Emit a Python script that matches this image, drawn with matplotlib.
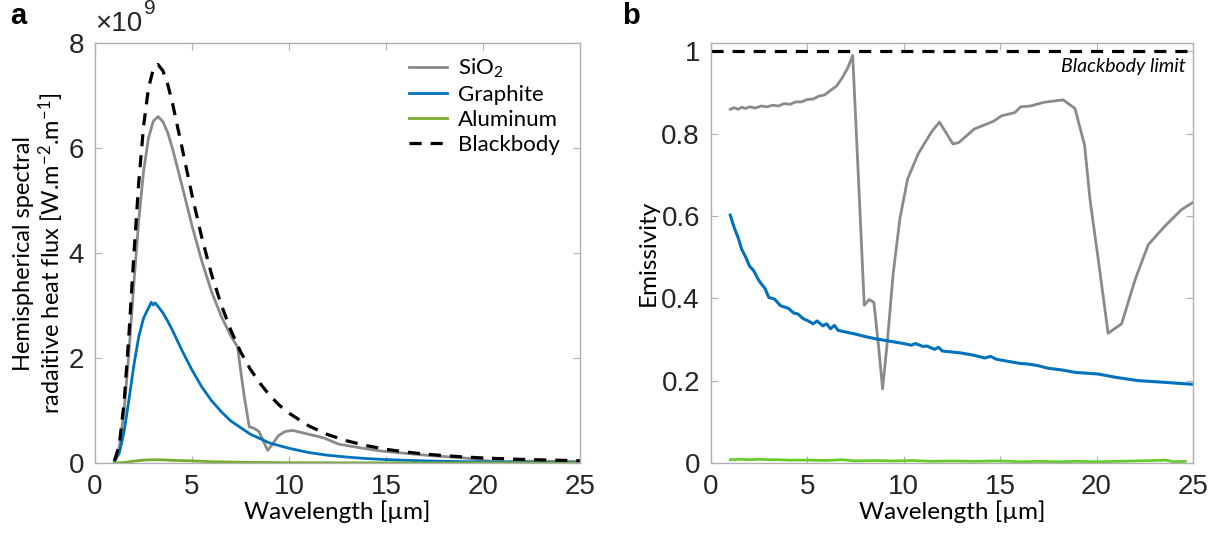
import matplotlib
matplotlib.use("Agg")
import matplotlib.pyplot as plt

# panel a: hemispherical spectral heat flux [x1e9 W/m^2/m]
wl_bb = [1.0, 1.25, 1.5, 1.75, 2.0, 2.25, 2.5, 2.75, 3.0, 3.25, 3.5, 3.75, 4.0, 4.5, 5.0,
         5.5, 6.0, 6.5, 7.0, 7.5, 8.0, 8.5, 9.0, 9.5, 10, 11, 12, 13, 14, 15, 16, 17, 18,
         19, 20, 22, 25]
flux_bb = [0.04, 0.34, 1.16, 2.46, 3.95, 5.33, 6.41, 7.13, 7.50, 7.59, 7.47, 7.21, 6.84, 5.98,
           5.10, 4.30, 3.60, 3.02, 2.53, 2.12, 1.79, 1.52, 1.29, 1.10, 0.95, 0.71, 0.54, 0.42,
           0.33, 0.26, 0.21, 0.17, 0.14, 0.115, 0.096, 0.068, 0.043]

wl_sio2_a = [1.0, 1.25, 1.5, 1.75, 2.0, 2.25, 2.5, 2.75, 3.0, 3.25, 3.5, 3.75, 4.0, 4.5, 5.0,
             5.5, 6.0, 6.5, 7.0, 7.35, 7.5, 7.7, 7.95, 8.2, 8.45, 8.7, 8.9, 9.15, 9.45, 9.8,
             10.2, 10.75, 11.45, 11.85, 12.55, 13.65, 14.7, 15.8, 16.6, 17.3, 18.3, 18.9, 19.4,
             20.0, 20.6, 21.3, 22.2, 23.0, 24.0, 25.0]
flux_sio2 = [0.037, 0.29, 1.00, 2.12, 3.41, 4.61, 5.55, 6.18, 6.51, 6.60, 6.50, 6.29, 5.98, 5.26,
             4.52, 3.85, 3.27, 2.80, 2.42, 2.21, 1.78, 1.25, 0.69, 0.66, 0.60, 0.40, 0.24, 0.36,
             0.52, 0.60, 0.62, 0.57, 0.51, 0.47, 0.36, 0.29, 0.23, 0.19, 0.165, 0.14, 0.115, 0.10,
             0.083, 0.051, 0.027, 0.026, 0.035, 0.034, 0.031, 0.027]

wl_gr_a = [1.0, 1.25, 1.5, 1.75, 2.0, 2.25, 2.5, 2.75, 2.9, 3.0, 3.1, 3.25, 3.5, 3.75, 4.0,
           4.5, 5.0, 5.5, 6.0, 6.5, 7.0, 8.0, 9.0, 10, 11, 12, 13, 14, 15, 16, 17, 18, 19, 20,
           22, 25]
flux_gr = [0.026, 0.19, 0.60, 1.21, 1.86, 2.40, 2.76, 2.95, 3.06, 3.01, 3.05, 2.98, 2.86, 2.70,
           2.52, 2.13, 1.77, 1.45, 1.19, 0.98, 0.80, 0.55, 0.38, 0.28, 0.20, 0.147, 0.112, 0.084,
           0.065, 0.051, 0.040, 0.032, 0.025, 0.021, 0.014, 0.008]

wl_al_a = [1.0, 1.5, 2.0, 2.5, 3.0, 3.5, 4.0, 5.0, 6.0, 7.0, 8.0, 10, 13, 17, 25]
flux_al = [0.0, 0.01, 0.035, 0.055, 0.062, 0.06, 0.05, 0.04, 0.025, 0.018, 0.012, 0.006,
           0.003, 0.001, 0.0005]

# panel b: emissivity
wl_sio2_b = [1.0, 1.2, 1.4, 1.6, 1.8, 2.0, 2.3, 2.6, 2.9, 3.2, 3.5, 3.8, 4.1, 4.4, 4.7, 5.0,
             5.3, 5.6, 5.9, 6.2, 6.5, 6.8, 7.1, 7.35, 7.65, 7.95, 8.2, 8.45, 8.7, 8.9, 9.15,
             9.45, 9.8, 10.2, 10.75, 11.45, 11.85, 12.55, 12.85, 13.65, 14.66, 15.06, 15.76,
             16.06, 16.57, 17.27, 18.27, 18.88, 19.38, 19.66, 20.09, 20.6, 21.3, 22.0, 22.68,
             23.54, 24.4, 25.0]
eps_sio2 = [0.859, 0.863, 0.859, 0.864, 0.861, 0.865, 0.862, 0.867, 0.865, 0.869, 0.867, 0.873,
            0.871, 0.877, 0.877, 0.883, 0.884, 0.891, 0.894, 0.905, 0.915, 0.935, 0.96, 0.99,
            0.69, 0.383, 0.397, 0.39, 0.28, 0.18, 0.296, 0.46, 0.594, 0.69, 0.751, 0.805,
            0.828, 0.775, 0.778, 0.811, 0.83, 0.843, 0.851, 0.865, 0.867, 0.876, 0.882, 0.861,
            0.772, 0.64, 0.494, 0.315, 0.338, 0.445, 0.53, 0.575, 0.615, 0.633]

wl_gr_b = [1.0, 1.2, 1.4, 1.6, 1.8, 2.0, 2.2, 2.5, 2.8, 3.0, 3.3, 3.6, 4.0, 4.3, 4.5, 4.8,
           5.0, 5.3, 5.5, 5.8, 6.0, 6.2, 6.4, 6.6, 7.0, 7.5, 8.0, 8.5, 9.0, 9.5, 10.0, 10.4,
           10.6, 11.0, 11.2, 11.6, 11.8, 12.0, 12.4, 13.0, 13.6, 14.2, 14.5, 14.8, 15.4, 16.0,
           16.5, 17.0, 17.5, 18.2, 18.9, 20.1, 21.0, 22.16, 23.5, 25.0]
eps_gr = [0.602, 0.572, 0.548, 0.518, 0.500, 0.478, 0.468, 0.442, 0.424, 0.402, 0.398, 0.382,
          0.376, 0.364, 0.362, 0.350, 0.346, 0.338, 0.345, 0.333, 0.338, 0.326, 0.334, 0.322,
          0.318, 0.313, 0.307, 0.302, 0.298, 0.294, 0.29, 0.286, 0.29, 0.283, 0.284, 0.276,
          0.281, 0.272, 0.27, 0.267, 0.262, 0.255, 0.259, 0.252, 0.247, 0.242, 0.24, 0.236,
          0.230, 0.226, 0.22, 0.216, 0.208, 0.2, 0.196, 0.191]

wl_al_b = [1.0, 1.5, 2.0, 2.5, 3.0, 3.5, 4.0, 5.0, 6.0, 6.8, 7.5, 8.5, 9.5, 10.5, 11.5, 12.5,
           13.5, 15, 16, 17, 18, 19, 20, 21, 22, 23, 23.6, 24.0, 24.6]
eps_al = [0.008, 0.009, 0.008, 0.009, 0.008, 0.008, 0.007, 0.007, 0.006, 0.008, 0.005, 0.006,
          0.005, 0.006, 0.004, 0.005, 0.004, 0.005, 0.003, 0.004, 0.003, 0.004, 0.003, 0.004,
          0.005, 0.006, 0.007, 0.003, 0.004]

grey = "#8a8a8a"
blue = "#0072BD"
green_a = "#77AC30"
green_b = "#66CC2E"
tickc = "#262626"
boxc = "#b0b0b0"

plt.rcParams["mathtext.fontset"] = "custom"
plt.rcParams["mathtext.rm"] = "Lato"
plt.rcParams["mathtext.it"] = "Lato:italic"

fig = plt.figure(figsize=(12.2, 5.35), dpi=100)
ax1 = fig.add_axes([0.0779, 0.1346, 0.3975, 0.785])
ax2 = fig.add_axes([0.5828, 0.1346, 0.395, 0.785])

def style(ax):
    for s in ax.spines.values():
        s.set_color(boxc)
        s.set_linewidth(1.0)
    ax.tick_params(direction="in", length=5, width=0.8, color=boxc, labelcolor=tickc,
                   top=True, right=True, labelsize=20, pad=8)
    for lab in ax.get_xticklabels() + ax.get_yticklabels():
        lab.set_fontfamily("Liberation Sans")
    ax.set_xlim(0, 25)
    ax.set_xticks([0, 5, 10, 15, 20, 25])
    ax.set_xlabel("Wavelength [µm]", fontsize=17.5, family="Lato", color="black", labelpad=0)

# panel a
ax1.plot(wl_sio2_a, flux_sio2, color=grey, lw=2, label="SiO$_2$")
ax1.plot(wl_gr_a, flux_gr, color=blue, lw=2, label="Graphite")
ax1.plot(wl_al_a, flux_al, color=green_a, lw=2, label="Aluminum")
ax1.plot(wl_bb, flux_bb, color="black", lw=2.3, ls=(0, (3.8, 2.8)), label="Blackbody")
ax1.set_ylim(0, 8)
ax1.set_yticks([0, 2, 4, 6, 8])
style(ax1)
ax1.set_ylabel("Hemispherical spectral\nradaitive heat flux [W.m$^{-2}$.m$^{-1}$]",
               fontsize=17, family="Lato", labelpad=2, linespacing=1.1)
leg = ax1.legend(loc="upper right", frameon=False, prop={"family": "Lato", "size": 16},
                 handlelength=1.7, handletextpad=0.5, labelspacing=0.22,
                 bbox_to_anchor=(1.0, 1.015))
ax1.text(0.0, 1.015, "×10", transform=ax1.transAxes, fontsize=20, family="Liberation Sans",
         color=tickc, ha="left", va="bottom")
ax1.text(0.1, 1.06, "9", transform=ax1.transAxes, fontsize=15, family="Liberation Sans",
         color=tickc, ha="left", va="bottom")
fig.text(0.008, 0.955, "a", fontsize=21, fontweight="bold", family="Liberation Sans")

# panel b
ax2.axhline(1.0, color="black", lw=2.3, ls=(0, (3.8, 2.8)))
ax2.plot(wl_sio2_b, eps_sio2, color=grey, lw=2)
ax2.plot(wl_gr_b, eps_gr, color=blue, lw=2.2)
ax2.plot(wl_al_b, eps_al, color=green_b, lw=2)
ax2.set_ylim(0, 1.02)
ax2.set_yticks([0, 0.2, 0.4, 0.6, 0.8, 1.0])
ax2.set_yticklabels(["0", "0.2", "0.4", "0.6", "0.8", "1"])
style(ax2)
ax2.set_ylabel("Emissivity", fontsize=17.5, family="Lato", labelpad=2)
ax2.text(24.6, 0.963, "Blackbody limit", fontsize=14, family="Lato", style="italic",
         ha="right", va="center")
fig.text(0.51, 0.955, "b", fontsize=21, fontweight="bold", family="Liberation Sans")

fig.savefig("out.png", dpi=100)
